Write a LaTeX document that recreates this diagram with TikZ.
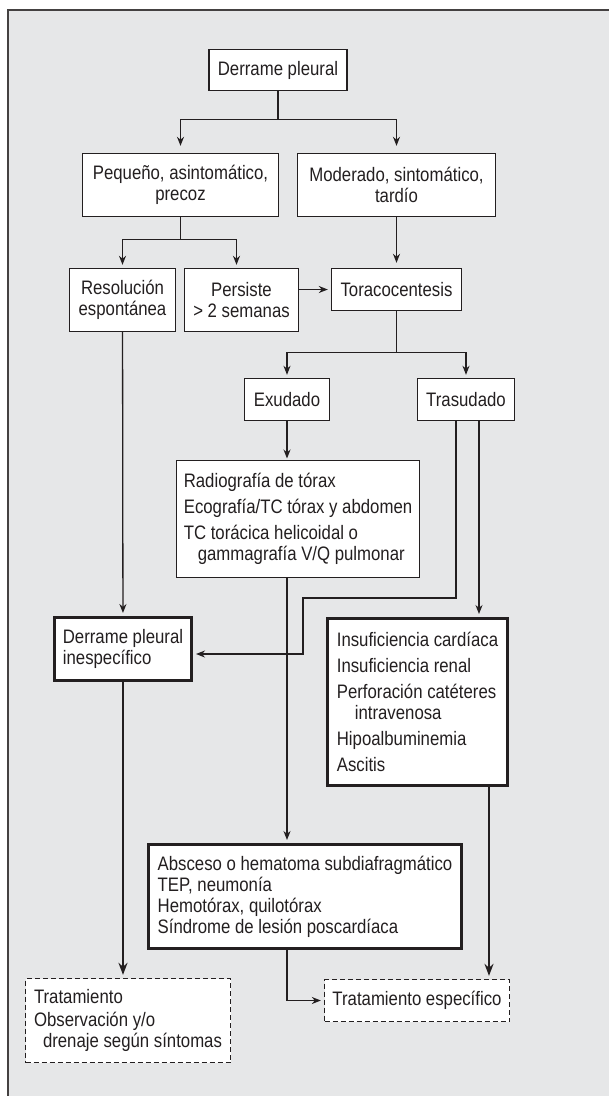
\documentclass[tikz,border=0pt]{standalone}
\usepackage{fontspec}
\setmainfont{Liberation Sans}[FakeStretch=0.86]
\usetikzlibrary{arrows.meta}
\definecolor{fondo}{HTML}{E6E7E8}
\definecolor{tinta}{HTML}{231F20}
\begin{document}
\begin{tikzpicture}[x=1pt,y=-1pt,
	caja/.style={draw=tinta,fill=white,line width=1.4pt,inner xsep=6pt,inner ysep=2pt,align=center,text=tinta},
	cajagruesa/.style={caja,line width=3pt,align=left},
	cajarayas/.style={caja,dash pattern=on 5pt off 3pt,line width=1.3pt,align=left},
	flecha/.style={draw=tinta,line width=1.3pt,shorten >=3pt,-{Stealth[length=9pt,width=7pt]}},
	flechagruesa/.style={flecha,line width=2.6pt,-{Stealth[length=12pt,width=9pt]}},
	font=\fontsize{19.5}{21}\selectfont]
	\useasboundingbox (0,0) rectangle (609,1096);
	\fill[fondo] (8,10) rectangle (620,1110);
	\draw[line width=2pt,draw=tinta!85] (8,1110) -- (8,10) -- (620,10);
	\node(dp) [caja,minimum width=138pt,minimum height=41pt] at (278,70) {Derrame pleural};
	\node(peq) [caja,minimum width=196pt,minimum height=63pt] at (180.5,185) {Pequeño, asintomático,\\ precoz};
	\node(mod) [caja,minimum width=198pt,minimum height=63pt] at (396.5,185) {Moderado, sintomático,\\ tardío};
	\node(res) [caja,minimum width=106pt,minimum height=63pt] at (122.5,300) {Resolución\\ espontánea};
	\node(per) [caja,minimum width=114pt,minimum height=63pt] at (241.5,300) {Persiste\\ > 2 semanas};
	\node(tor) [caja,minimum width=130pt,minimum height=42pt] at (396.5,289.5) {Toracocentesis};
	\node(exu) [caja,minimum width=85pt,minimum height=42pt] at (287,399.5) {Exudado};
	\node(tra) [caja,minimum width=97pt,minimum height=42pt] at (466,399.5) {Trasudado};
	\node(rad) [caja,align=left,anchor=north,minimum width=243pt,minimum height=117pt] at (298,459.5) {Radiografía de tórax\\[5pt] Ecografía/TC tórax y abdomen\\[5pt] TC torácica helicoidal o\\ \hspace*{14pt}gammagrafía V/Q pulmonar};
	\node(ine) [cajagruesa,minimum width=137pt,minimum height=63pt] at (123,649) {Derrame pleural\\ inespecífico};
	\node(ins) [cajagruesa,minimum width=180pt,minimum height=167pt] at (417.5,702) {Insuficiencia cardíaca\\[5pt] Insuficiencia renal\\[5pt] Perforación catéteres\\ \hspace*{18pt}intravenosa\\[5pt] Hipoalbuminemia\\[5pt] Ascitis};
	\node(abs) [cajagruesa,minimum width=313pt,minimum height=104pt] at (305,896.5) {Absceso o hematoma subdiafragmático\\ TEP, neumonía\\ Hemotórax, quilotórax\\ Síndrome de lesión poscardíaca};
	\node(trat) [cajarayas,minimum width=205pt,minimum height=84pt] at (128,1020.5) {Tratamiento\\[2pt] Observación y/o\\ \hspace*{9pt}drenaje según síntomas};
	\node(tesp) [cajarayas,align=center,minimum width=185pt,minimum height=42pt] at (417,1000.5) {Tratamiento específico};
	\draw[flecha,shorten >=7pt] (dp.south) -- ++(0,28) coordinate (d1) -| (peq.north);
	\draw[flecha,shorten >=7pt] (d1) -| (mod.north);
	\draw[flecha] (peq.south) -- ++(0,22) coordinate (p1) -| (res.north);
	\draw[flecha] (p1) -| ([xshift=-5pt]per.north);
	\draw[flecha,shorten >=5pt] (mod) -- (tor);
	\draw[flecha] (per.east |- tor.west) -- (tor.west);
	\draw[flecha] (tor.south) -- ++(0,41) coordinate (t1) -| (exu.north);
	\draw[flecha] (t1) -| (tra.north);
	\draw[flecha,shorten >=1pt] (exu) -- (exu.south |- rad.north);
	\draw[flecha] (res) -- (ine);
	\coordinate (k1) at (303,598);
	\draw[flecha] ([xshift=-10pt]tra.south) |- (k1) |- ([yshift=-5pt]ine.east);
	\draw[flecha] ([xshift=13pt]tra.south) -- ([xshift=13pt]tra.south |- ins.north);
	\draw[flecha] ([xshift=-11pt]rad.south) -- ([xshift=-11pt]rad.south |- abs.north);
	\draw[flechagruesa] (ine) -- (ine.south |- trat.north);
	\draw[flechagruesa] ([xshift=71.5pt]ins.south) -- ([xshift=71.5pt]ins.south |- tesp.north);
	\draw[flecha] ([xshift=-18pt]abs.south) |- (tesp.west);
\end{tikzpicture}
\end{document}
